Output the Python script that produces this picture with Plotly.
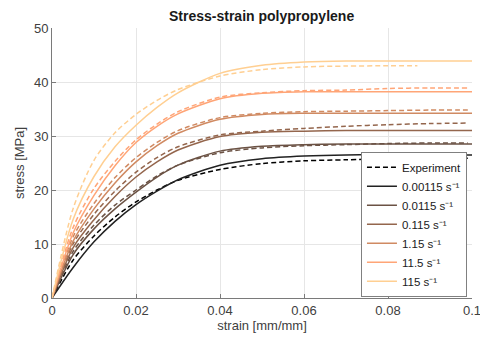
import plotly.graph_objects as go

# strain grid (mm/mm)
strain = [0, 0.005, 0.01, 0.015, 0.02, 0.025, 0.03, 0.04, 0.05, 0.06, 0.07, 0.08, 0.09, 0.1]
strain_exp = [0, 0.005, 0.01, 0.015, 0.02, 0.025, 0.03, 0.04, 0.05, 0.06, 0.07, 0.08, 0.09, 0.099]
strain_exp_115 = [0, 0.005, 0.01, 0.015, 0.02, 0.025, 0.03, 0.04, 0.05, 0.06, 0.07, 0.08, 0.087]

rate_labels = ["0.00115 s⁻¹", "0.0115 s⁻¹", "0.115 s⁻¹",
               "1.15 s⁻¹", "11.5 s⁻¹", "115 s⁻¹"]

# model stress (MPa)
model_000115 = [0, 5.6, 10.4, 14.2, 17.3, 19.8, 21.9, 24.6, 25.8, 26.3, 26.5, 26.5, 26.5, 26.5]
model_00115 = [0, 8.0, 12.8, 16.5, 19.6, 22.4, 24.6, 27.2, 28.1, 28.4, 28.5, 28.5, 28.5, 28.5]
model_0115 = [0, 9.3, 14.5, 18.8, 22.4, 25.2, 27.4, 29.9, 30.7, 30.9, 31.0, 31.0, 31.0, 31.0]
model_115 = [0, 10.5, 16.5, 21.3, 25.2, 28.2, 30.5, 33.1, 34.0, 34.2, 34.2, 34.2, 34.2, 34.2]
model_1150 = [0, 12.0, 19.0, 24.5, 28.8, 31.8, 34.1, 36.9, 37.9, 38.2, 38.2, 38.2, 38.2, 38.2]
model_11500 = [0, 14.5, 22.5, 28.0, 32.0, 35.3, 38.0, 41.6, 43.1, 43.7, 43.9, 43.9, 43.9, 43.9]

# experiment stress (MPa)
exp_000115 = [0, 7.0, 11.5, 15.0, 17.8, 20.0, 21.8, 23.8, 24.9, 25.4, 25.6, 25.8, 25.9, 25.9]
exp_00115 = [0, 8.6, 13.5, 17.2, 20.0, 22.6, 24.6, 26.9, 27.8, 28.2, 28.4, 28.6, 28.7, 28.7]
exp_0115 = [0, 10.0, 15.5, 19.8, 23.3, 26.0, 28.0, 30.2, 30.9, 31.4, 31.8, 32.1, 32.3, 32.4]
exp_115 = [0, 11.3, 17.5, 22.3, 26.0, 28.8, 31.0, 33.4, 34.2, 34.5, 34.6, 34.7, 34.8, 34.8]
exp_1150 = [0, 13.0, 20.3, 25.3, 29.3, 32.2, 34.5, 37.2, 38.0, 38.4, 38.5, 38.8, 38.9, 38.9]
exp_11500 = [0, 16.5, 25.5, 30.6, 34.0, 36.6, 38.6, 41.1, 42.3, 42.8, 42.95, 43.0, 43.0]

colors = ["#222222", "#6B5244", "#94664D", "#D08A62", "#FFA577", "#FFCF92"]

models = [model_000115, model_00115, model_0115, model_115, model_1150, model_11500]
exps = [exp_000115, exp_00115, exp_0115, exp_115, exp_1150, exp_11500]
exp_x = [strain_exp] * 5 + [strain_exp_115]

fig = go.Figure()

fig.add_trace(go.Scatter(x=exp_x[0], y=exps[0], mode="lines", name="Experiment",
                         line=dict(color="black", width=1.5, dash="5px,3px", shape="spline", smoothing=0.8),
                         showlegend=True))
for i in range(1, 6):
    fig.add_trace(go.Scatter(x=exp_x[i], y=exps[i], mode="lines", showlegend=False,
                             line=dict(color=colors[i], width=1.5, dash="5px,3px", shape="spline", smoothing=0.8),
                             hoverinfo="skip"))
for i in range(6):
    fig.add_trace(go.Scatter(x=strain, y=models[i], mode="lines", name=rate_labels[i],
                             line=dict(color=colors[i], width=1.5, shape="spline", smoothing=0.8)))

axis_common = dict(showgrid=True, gridcolor="#E6E6E6", gridwidth=1, zeroline=False,
                   showline=True, linecolor="#7A7A7A", linewidth=1,
                   ticks="inside", ticklen=4, tickcolor="#7A7A7A",
                   tickfont=dict(size=13, color="#404040"), automargin=False)

fig.update_layout(
    width=480, height=349,
    margin=dict(l=52, r=8, t=28, b=51),
    paper_bgcolor="white", plot_bgcolor="white",
    font=dict(family="Liberation Sans, Arial, sans-serif", color="#262626"),
    title=dict(text="<b>Stress-strain polypropylene</b>", x=0.545, xanchor="center",
               y=0.955, yanchor="middle", font=dict(size=14, color="#1a1a1a")),
    xaxis=dict(range=[0, 0.1], tickvals=[0, 0.02, 0.04, 0.06, 0.08, 0.1],
               ticktext=["0", "0.02", "0.04", "0.06", "0.08", "0.1"],
               ticklabeloverflow="allow",
               title=dict(text="strain [mm/mm]", font=dict(size=13, color="#404040"), standoff=4),
               **axis_common),
    yaxis=dict(range=[0, 50], tickvals=[0, 10, 20, 30, 40, 50],
               title=dict(text="stress [MPa]", font=dict(size=13, color="#404040"), standoff=6),
               **axis_common),
    legend=dict(x=0.988, xanchor="right", y=0.005, yanchor="bottom",
                bgcolor="white", bordercolor="#808080", borderwidth=1,
                font=dict(size=11.5, color="#1a1a1a"), tracegroupgap=0,
                itemwidth=30),
)

fig.write_html("out.html", config={"displayModeBar": False},
               post_script="document.body.style.margin='0';document.body.style.overflow='hidden';")
